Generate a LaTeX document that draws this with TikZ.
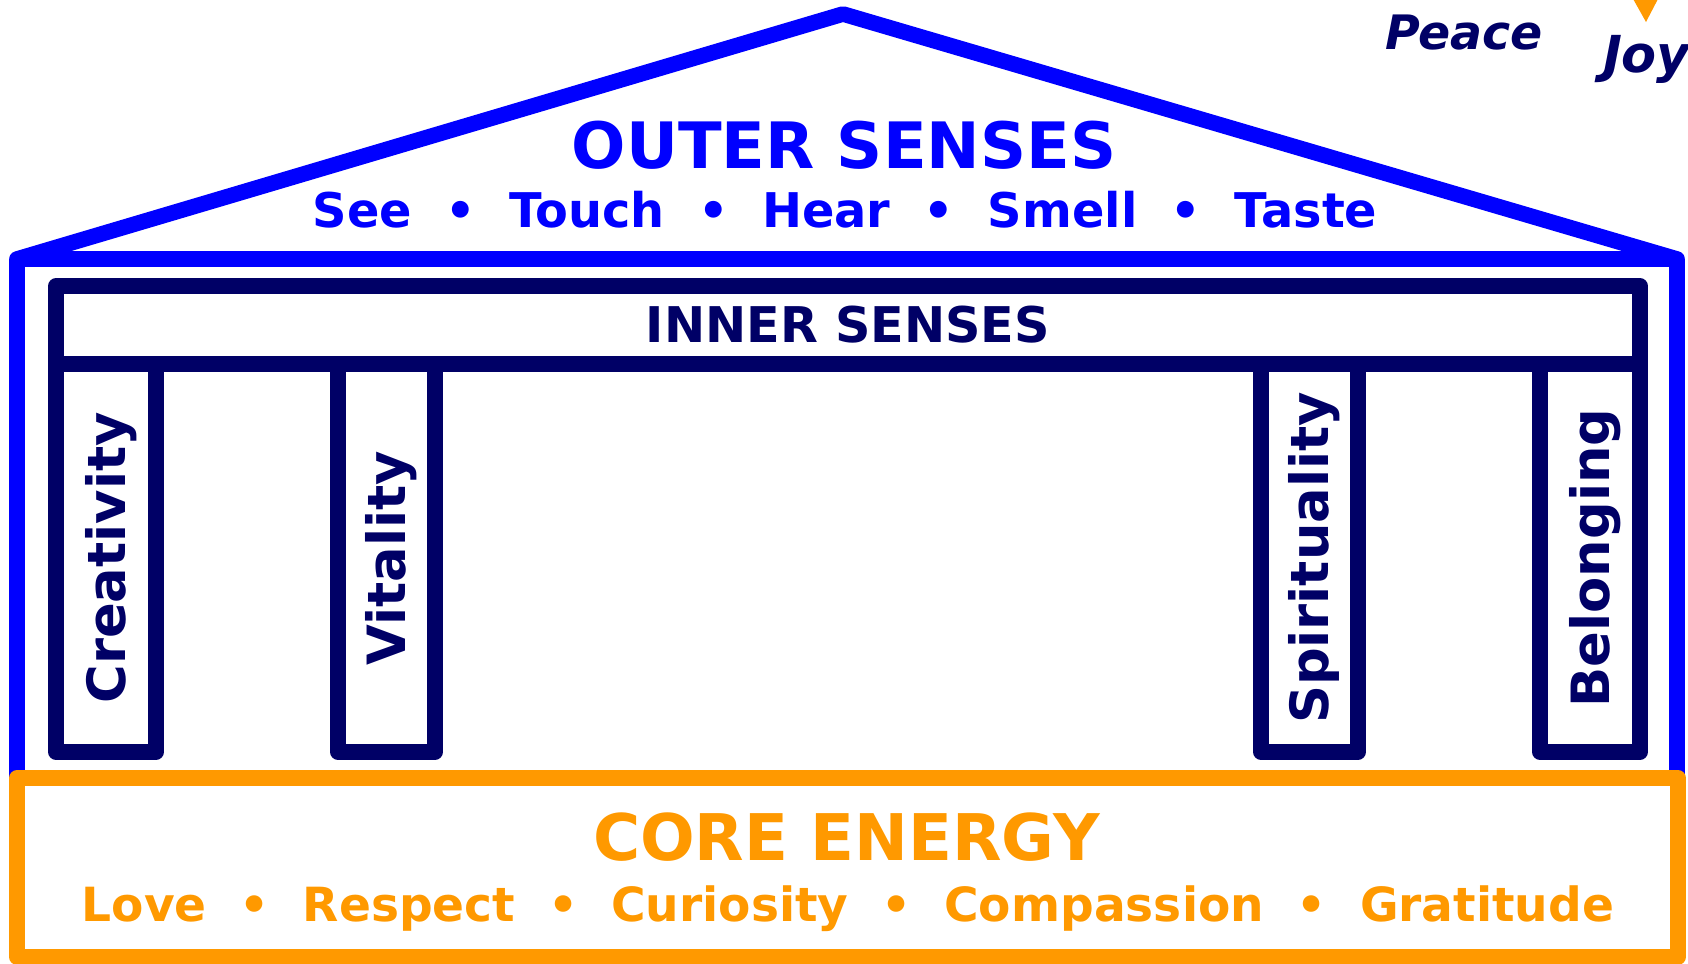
\documentclass[tikz,border=0pt]{standalone}
\usepackage{fontspec}
\setmainfont{DejaVu Sans}[BoldFont={DejaVu Sans Bold}, BoldItalicFont={DejaVu Sans Bold Oblique}]
\usepackage{tikz}
\definecolor{outerblue}{HTML}{0000FF}
\definecolor{innernavy}{HTML}{000066}
\definecolor{coreorange}{HTML}{FF9900}
\newcommand{\sepdot}{\hspace{0.7em}•\hspace{0.7em}}

\begin{document}
\begin{tikzpicture}[
    every node/.style={inner sep=0pt, outer sep=0pt},
    wall/.style={draw=outerblue, line width=1.56mm, line join=round},
    bar/.style={draw=innernavy, line width=1.56mm, line join=round,
                text=innernavy, font=\fontsize{14}{17}\selectfont\bfseries,
                text height=10.2pt, text depth=0pt},
    pillar/.style={bar, rotate=90, minimum width=3.88cm,
                   font=\fontsize{15}{18}\selectfont\bfseries, text height=10.9pt},
    corebox/.style={draw=coreorange, line width=1.56mm, line join=round},
    title/.style={anchor=base, font=\fontsize{#1}{#1}\selectfont\bfseries},
    word/.style={anchor=base west, text=innernavy,
                 font=\fontsize{#1}{16}\selectfont\bfseries\itshape}
]
\useasboundingbox (0,0) rectangle (16.88,9.63);

% ── Outer house: roof and walls ──────────────────────────────────────────
\draw[wall] (0.17,1.86) -- (0.17,7.04) -- (8.43,9.49) -- (16.77,7.04) -- (16.77,1.86);
\draw[wall] (0.17,7.04) -- (16.77,7.04);

\node[title=18.2, text=outerblue] (outer) at (8.44,7.95) {OUTER SENSES};
\node[title=13.6, text=outerblue] (senses) at (8.45,7.36)
      {See\sepdot Touch\sepdot Hear\sepdot Smell\sepdot Taste};

% ── Inner senses beam ─────────────────────────────────────────────────────
\node[bar, minimum width=15.84cm, minimum height=0.78cm] (inner) at (8.48,6.38) {INNER SENSES};

% ── Pillars ───────────────────────────────────────────────────────────────
\node[pillar, minimum height=1.00cm] (creat) at (1.06,4.05) {Creativity};
\node[pillar, minimum height=0.97cm] (vital) at (3.865,4.05) {Vitality};
\node[pillar, minimum height=0.97cm] (spirit) at (13.095,4.05) {Spirituality};
\node[pillar, minimum height=1.00cm] (belong) at (15.90,4.05) {Belonging};

% ── Core energy base ──────────────────────────────────────────────────────
\node[corebox, minimum width=16.61cm, minimum height=1.79cm] (core) at (8.475,0.955) {};
\node[title=18.3, text=coreorange] (energy) at (8.465,1.03) {CORE ENERGY};
\node[title=13.4, text=coreorange] (values) at (8.48,0.42)
      {Love\sepdot Respect\sepdot Curiosity\sepdot Compassion\sepdot Gratitude};

% ── Top right corner ──────────────────────────────────────────────────────
\fill[coreorange] (16.32,9.66) -- (16.59,9.66) -- (16.46,9.41) -- cycle;
\node[word=13.5] (peace) at (13.85,9.14) {Peace};
\node[word=14.5] (joy) at (16.03,8.91) {Joy};

\end{tikzpicture}
\end{document}
